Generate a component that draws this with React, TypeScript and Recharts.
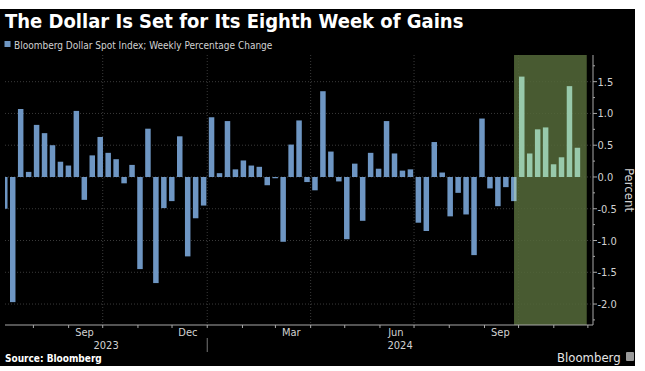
import React from 'react';
import { BarChart, Bar, XAxis, YAxis, CartesianGrid, ReferenceArea, Cell } from 'recharts';

const DAY = 24 * 60 * 60 * 1000;
const ts = (s: string) => Date.parse(s + 'T00:00:00Z');

// Bloomberg Dollar Spot Index, weekly % change (one bar per week from 7 Jul 2023)
const firstWeek = '2023-07-07';
const weeklyChange = [
  -0.5, -1.97, 1.07, 0.08, 0.82, 0.69, 0.5, 0.24, 0.18, 1.04,
  -0.36, 0.34, 0.63, 0.38, 0.28, -0.1, 0.19, -1.45, 0.76, -1.67,
  -0.49, -0.38, 0.64, -1.25, -0.65, -0.45, 0.94, 0.06, 0.88, 0.12,
  0.26, 0.18, 0.16, -0.13, -0.02, -1.02, 0.51, 0.89, -0.08, -0.21,
  1.35, 0.4, -0.07, -0.98, 0.21, -0.69, 0.38, 0.13, 0.88, 0.37,
  0.1, 0.12, -0.72, -0.85, 0.55, 0.07, -0.62, -0.25, -0.59, -1.23,
  0.92, -0.18, -0.46, -0.16, -0.38, 1.58, 0.37, 0.75, 0.78, 0.2,
  0.31, 1.43, 0.46,
];
const gainWeeks = 8;

const highlight = ['2024-09-27', '2024-11-30'];
const monthLabels = ['Sep', 'Dec', 'Mar', 'Jun', 'Sep'];
const monthLabelDates = ['2023-09-15', '2023-12-15', '2024-03-15', '2024-06-15', '2024-09-15'];
const yearLabels = ['2023', '2024'];
const quarterStarts = ['2023-10-01', '2024-01-01', '2024-04-01', '2024-07-01', '2024-10-01'];
const yTicks = [-2.25, -2, -1.75, -1.5, -1.25, -1, -0.75, -0.5, -0.25, 0, 0.25, 0.5, 0.75, 1, 1.25, 1.5, 1.75];
const yGrid = [-2, -1.5, -1, -0.5, 0, 0.5, 1, 1.5];

const BLUE = '#6e96c3';
const PALE = '#98c9ab';
const AXIS = '#a8a8a8';
const LABEL = '#d2d2d2';
const FONT = '"DejaVu Sans Condensed", "DejaVu Sans", sans-serif';

const data = weeklyChange.map((v, i) => ({ date: ts(firstWeek) + i * 7 * DAY, value: v }));
const xMin = ts(firstWeek);
const xMax = Date.UTC(2024, 11, 5, 12);
const yearBreak = ts('2024-01-01');

// bottom axis: month marks, month labels, year labels
const xInfo = new Map<number, { kind: string; label?: string; jan?: boolean }>();
for (let y = 2023, m = 7; y < 2025; m++) {
  if (m > 11) { m = 0; y++; }
  if (y === 2024 && m > 11) break;
  const t = Date.UTC(y, m, 1);
  if (t > xMax) break;
  xInfo.set(t, { kind: 'mark', jan: m === 0 });
}
monthLabelDates.forEach((d, i) => xInfo.set(ts(d), { kind: 'month', label: monthLabels[i] }));
xInfo.set(Math.round((xMin + yearBreak) / 2), { kind: 'year', label: yearLabels[0] });
xInfo.set(Math.round((yearBreak + xMax) / 2), { kind: 'year', label: yearLabels[1] });
const xTicks = Array.from(xInfo.keys()).sort((a, b) => a - b);

const XTick = (props: any) => {
  const { x, y, payload } = props;
  const info = xInfo.get(payload.value);
  if (!info) return <g />;
  if (info.kind === 'mark') {
    return (
      <g>
        <line x1={x} x2={x} y1={y} y2={y + 3} stroke={AXIS} />
        {info.jan && <line x1={x} x2={x} y1={y + 13} y2={y + 27} stroke="#777" />}
      </g>
    );
  }
  return (
    <text x={x} y={y + (info.kind === 'month' ? 11 : 24)} textAnchor="middle" fill={LABEL} fontSize={11} fontFamily={FONT}>
      {info.label}
    </text>
  );
};

const YTick = (props: any) => {
  const { x, y, payload } = props;
  const v = payload.value as number;
  const major = Math.abs(v * 2 - Math.round(v * 2)) < 1e-6;
  return (
    <g>
      <line x1={x} x2={x + (major ? 4 : 2)} y1={y} y2={y} stroke={AXIS} />
      {major && (
        <text x={x + 4.5} y={y + 4} fill={LABEL} fontSize={11} fontFamily={FONT}>
          {v.toFixed(1)}
        </text>
      )}
    </g>
  );
};

export default function App() {
  const n = data.length;
  return (
    <div style={{ position: 'absolute', left: 0, top: 0, width: 645, height: 371, background: '#fff', overflow: 'hidden' }}>
      <div style={{ position: 'absolute', left: 0, top: 9, width: 635, height: 357, background: '#000' }} />
      <svg width={0} height={0} style={{ position: 'absolute' }}>
        <defs>
          <linearGradient id="split" x1="0" x2="1" y1="0" y2="0">
            <stop offset="0.5" stopColor={BLUE} />
            <stop offset="0.5" stopColor="#93b8bd" />
          </linearGradient>
        </defs>
      </svg>
      <div style={{ position: 'absolute', left: 0, top: 0 }}>
        <BarChart width={645} height={371} data={data} margin={{ top: 55, left: 5, right: 12, bottom: 16 }}>
          <CartesianGrid
            horizontalValues={yGrid}
            verticalValues={quarterStarts.map(ts)}
            stroke="#3a3a3a"
            strokeDasharray="1 2"
          />
          <ReferenceArea x1={ts(highlight[0])} x2={ts(highlight[1])} fill="#546939" fillOpacity={0.86} stroke="none" ifOverflow="hidden" />
          <XAxis
            type="number"
            dataKey="date"
            domain={[xMin, xMax]}
            allowDataOverflow
            ticks={xTicks}
            interval={0}
            tick={<XTick />}
            tickLine={false}
            tickSize={0}
            tickMargin={0}
            axisLine={{ stroke: AXIS }}
            height={30}
          />
          <YAxis
            orientation="right"
            type="number"
            domain={[-2.33, 1.92]}
            allowDataOverflow
            ticks={yTicks}
            interval={0}
            tick={<YTick />}
            tickLine={false}
            tickSize={0}
            tickMargin={0}
            axisLine={{ stroke: AXIS }}
            width={40}
          />
          <Bar dataKey="value" barSize={5.5} isAnimationActive={false}>
            {data.map((d, i) => (
              <Cell key={i} fill={i >= n - gainWeeks ? PALE : i === n - gainWeeks - 1 ? 'url(#split)' : BLUE} />
            ))}
          </Bar>
        </BarChart>
      </div>
      <svg width={645} height={371} style={{ position: 'absolute', left: 0, top: 0, pointerEvents: 'none' }}>
        <text x={5} y={27.5} fill="#fff" fontSize={20} fontWeight="bold" fontFamily={FONT}>
          The Dollar Is Set for Its Eighth Week of Gains
        </text>
        <rect x={4.5} y={41} width={6} height={6} fill={BLUE} />
        <text x={14} y={48.5} fill={LABEL} fontSize={10} fontFamily={FONT}>
          Bloomberg Dollar Spot Index; Weekly Percentage Change
        </text>
        <text x={629} y={190} fill={LABEL} fontSize={13} fontFamily={FONT} textAnchor="middle" dominantBaseline="central" transform="rotate(90 629 190)">
          Percent
        </text>
        <text x={5} y={362} fill="#fff" fontSize={10} fontWeight="bold" fontFamily={FONT}>
          Source: Bloomberg
        </text>
        <text x={557} y={362} fill="#e6e6e6" fontSize={13} fontFamily={FONT}>
          Bloomberg
        </text>
        <rect x={626} y={352} width={8} height={9} rx={1} fill="#9a9a9a" />
      </svg>
    </div>
  );
}
